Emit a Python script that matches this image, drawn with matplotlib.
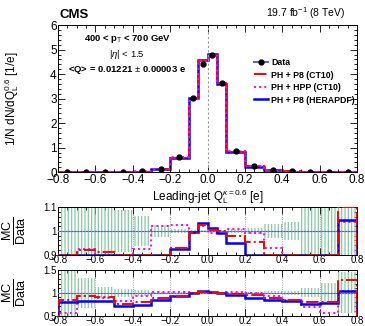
import matplotlib
matplotlib.use('Agg')
import matplotlib.pyplot as plt
from matplotlib.ticker import MultipleLocator
from matplotlib.lines import Line2D
import numpy as np

plt.rcParams['font.family'] = ['Liberation Sans', 'DejaVu Sans']
plt.rcParams['mathtext.fontset'] = 'custom'
plt.rcParams['mathtext.rm'] = 'Liberation Sans'
plt.rcParams['mathtext.it'] = 'Liberation Sans:italic'
plt.rcParams['mathtext.bf'] = 'Liberation Sans:bold'
plt.rcParams['hatch.linewidth'] = 0.9

# bin edges of the jet charge distribution
edges = [-0.8, -0.7, -0.6, -0.5, -0.4, -0.3, -0.2, -0.1, -0.05, 0.0, 0.05, 0.1,
         0.2, 0.3, 0.4, 0.5, 0.6, 0.7, 0.8]
centers = [-0.75, -0.65, -0.55, -0.45, -0.35, -0.25, -0.15, -0.075, -0.025, 0.025, 0.075,
           0.15, 0.25, 0.35, 0.45, 0.55, 0.65, 0.75]

data = [0.004, 0.006, 0.008, 0.012, 0.03, 0.14, 0.61, 3.02, 4.42, 4.76, 3.62,
        0.86, 0.25, 0.08, 0.03, 0.015, 0.008, 0.005]

# main panel MC histograms
mc_p8_ct10 = [0.004, 0.006, 0.007, 0.009, 0.024, 0.123, 0.57, 2.99, 4.54, 4.78, 3.62,
              0.84, 0.239, 0.071, 0.026, 0.012, 0.0065, 0.0064]
mc_hpp_ct10 = [0.002, 0.006, 0.007, 0.010, 0.028, 0.143, 0.63, 2.99, 4.52, 4.73, 3.62,
               0.87, 0.248, 0.074, 0.025, 0.010, 0.0045, 0.0052]
mc_p8_hera = [0.003, 0.005, 0.007, 0.009, 0.022, 0.12, 0.57, 3.01, 4.57, 4.83, 3.58,
              0.82, 0.22, 0.067, 0.025, 0.011, 0.006, 0.005]

# MC / data ratios
ratio_p8_ct10 = [0.85, 0.92, 0.91, 0.76, 0.80, 0.88, 0.93, 0.99, 1.027, 1.005, 1.0,
                 0.98, 0.955, 0.895, 0.85, 0.80, 0.80, 1.28]
ratio_hpp_ct10 = [0.56, 0.925, 0.88, 0.82, 0.925, 1.02, 1.027, 0.99, 1.023, 0.993, 1.0,
                  1.01, 0.99, 0.93, 0.85, 0.69, 0.56, 1.04]
ratio_p8_hera = [0.80, 0.83, 0.82, 0.71, 0.74, 0.84, 0.925, 0.997, 1.035, 1.014, 0.99,
                 0.95, 0.88, 0.84, 0.83, 0.745, 0.77, 1.045]

# relative data uncertainty (band in ratio panels)
data_unc = [0.5, 0.33, 0.12, 0.09, 0.065, 0.025, 0.01, 0.004, 0.003, 0.003, 0.004,
            0.01, 0.013, 0.03, 0.04, 0.1, 0.22, 0.45]

RED = '#ff0000'
MAG = '#ff00ff'
BLUE = '#0000ff'
BAND = '#86c9a3'

fig = plt.figure(figsize=(3.65, 3.26), dpi=100)
L, W = 0.159, 0.819
ax = fig.add_axes([L, 0.472, W, 0.451])
ax1 = fig.add_axes([L, 0.219, W, 0.145])
ax2 = fig.add_axes([L, 0.032, W, 0.140])

def style(a, fs):
    a.set_xlim(-0.8, 0.8)
    a.xaxis.set_major_locator(MultipleLocator(0.2))
    a.xaxis.set_minor_locator(MultipleLocator(0.05))
    a.tick_params(which='both', direction='in', top=True, right=True, labelsize=fs, pad=1)
    a.tick_params(which='major', length=5, width=0.6)
    a.tick_params(which='minor', length=2.5, width=0.6)
    for s in a.spines.values():
        s.set_linewidth(0.7)

# main panel
style(ax, 8.5)
ax.set_ylim(0, 6)
ax.yaxis.set_major_locator(MultipleLocator(1))
ax.yaxis.set_minor_locator(MultipleLocator(0.2))
ax.axvline(0, color='#999999', ls=(0, (2, 2)), lw=0.8)
ax.stairs(mc_p8_hera, edges, color=BLUE, lw=1.8)
ax.stairs(mc_p8_ct10, edges, color=RED, lw=1.4, ls='-.')
ax.stairs(mc_hpp_ct10, edges, color=MAG, lw=1.4, ls=':')
ax.plot(centers, data, 'o', color='black', ms=3.5, zorder=5)
ax.set_xlabel(r'Leading-jet Q$_{\mathrm{L}}^{\kappa=0.6}$ [e]', fontsize=8.5)
ax.set_ylabel(r'1/N dN/dQ$_{\mathrm{L}}^{0.6}$ [1/e]', fontsize=8.5)
ax.xaxis.set_label_coords(0.5, -0.1)
ax.yaxis.set_label_coords(-0.125, 0.5)

ax.text(-0.43, 5.42, r'400 < p$_{\mathrm{T}}$ < 700 GeV', ha='center', va='center',
        fontsize=6.8, fontweight='bold')
ax.text(-0.43, 4.8, r'|$\eta$| < 1.5', ha='center', va='center', fontsize=6.8)
ax.text(-0.43, 4.17, r'<Q> = 0.01221 $\pm$ 0.00003 e', ha='center', va='center',
        fontsize=6.8, fontweight='bold')

handles = [Line2D([], [], color='#5a6fb0', marker='o', ms=3.5, lw=1.5, mec='black',
                  mfc='black'),
           Line2D([], [], color=RED, lw=1.4, ls='-.'),
           Line2D([], [], color=MAG, lw=1.4, ls=':'),
           Line2D([], [], color=BLUE, lw=1.8)]
ax.legend(handles, ['Data', 'PH + P8 (CT10)', 'PH + HPP (CT10)', 'PH + P8 (HERAPDF)'],
          loc='upper left', bbox_to_anchor=(0.645, 0.8), frameon=False,
          prop={'size': 6.3, 'weight': 'bold'}, handlelength=1.6,
          handletextpad=0.3, labelspacing=0.4, borderaxespad=0)

fig.text(L + 0.003, 0.935, 'CMS', fontsize=9.5, fontweight='bold', ha='left', va='bottom')
fig.text(0.947, 0.935, r'19.7 fb$^{-1}$ (8 TeV)', fontsize=7.5, ha='right', va='bottom')

# ratio panels
for a, lo, hi, step in [(ax1, 0.9, 1.1, 0.1), (ax2, 0.5, 1.5, 0.5)]:
    style(a, 7)
    a.tick_params(axis='x', pad=0.5)
    a.set_ylim(lo, hi)
    a.yaxis.set_minor_locator(MultipleLocator(step / 5))
    a.set_yticks([lo, 1.0, hi])
    a.set_yticklabels([('%g' % lo), '1', ('%g' % hi)])
    for x in [-0.6, -0.4, -0.2, 0.0, 0.2, 0.4, 0.6]:
        a.axvline(x, color='#888888', ls=':', lw=0.6, zorder=1)
    a.bar(centers, 2 * np.array(data_unc), bottom=1 - np.array(data_unc),
          width=np.diff(edges), fill=False, hatch='|||||', edgecolor=BAND, lw=0, zorder=2)
    a.axhline(1, color='#4a62a8', lw=0.8, zorder=3)
    a.axhline(1, color='#999999', lw=0.8, ls=':', zorder=3)
    a.stairs(np.clip(ratio_hpp_ct10, lo, hi), edges, color=MAG, lw=1.4, ls=':', zorder=4)
    a.stairs(np.clip(ratio_p8_ct10, lo, hi), edges, color=RED, lw=1.4, ls='-.', zorder=5)
    a.stairs(np.clip(ratio_p8_hera, lo, hi), edges, color=BLUE, lw=1.8, zorder=4)
    a.set_ylabel(r'$\frac{\mathrm{MC}}{\mathrm{Data}}$', fontsize=13)
    a.yaxis.set_label_coords(-0.1, 0.5)

fig.savefig('out.png', dpi=100)
